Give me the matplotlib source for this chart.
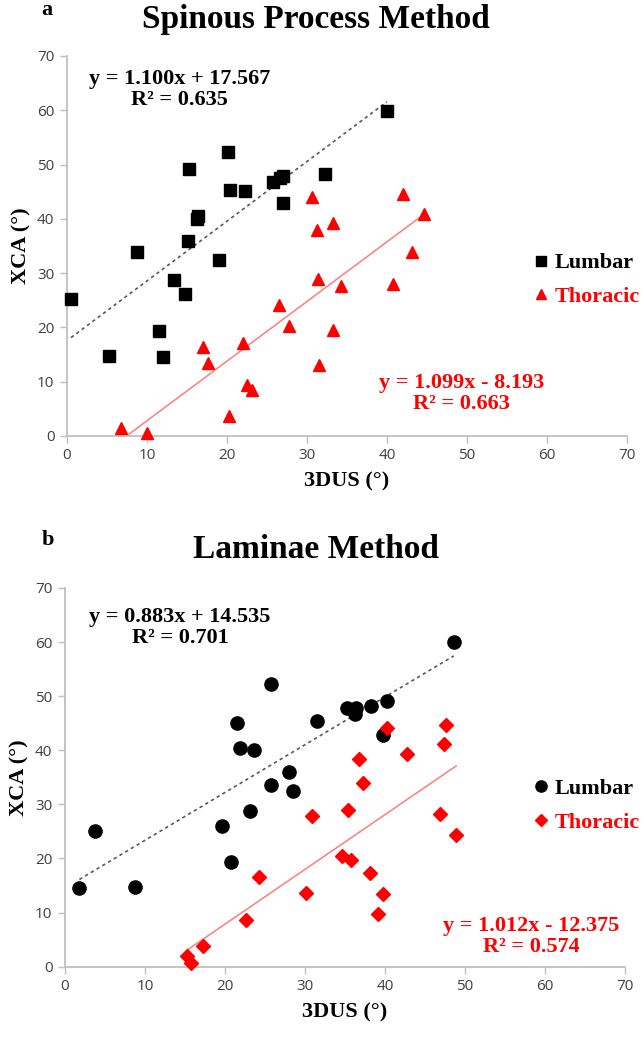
import matplotlib.pyplot as plt
from matplotlib.lines import Line2D
import numpy as np

# ---- data ----
# panel a: spinous process method
sp_lumbar_x = [0.5, 5.3, 8.7, 11.5, 12.0, 13.4, 14.8, 15.1, 15.2, 16.3, 16.4,
               19.0, 20.1, 20.4, 22.3, 25.7, 26.6, 27.0, 27.0, 32.2, 40.0]
sp_lumbar_y = [25.2, 14.8, 33.8, 19.4, 14.6, 28.7, 26.1, 35.9, 49.2, 39.9, 40.6,
               32.5, 52.3, 45.3, 45.2, 46.8, 47.5, 47.8, 42.9, 48.2, 59.9]
sp_thor_x = [6.8, 10.0, 17.0, 17.6, 20.2, 22.0, 22.5, 23.1, 26.5, 27.7, 30.6,
             31.3, 31.4, 31.5, 33.2, 33.3, 34.3, 40.8, 42.0, 43.1, 44.6]
sp_thor_y = [1.5, 0.5, 16.3, 13.4, 3.7, 17.1, 9.4, 8.5, 24.2, 20.3, 44.0,
             38.0, 28.9, 13.1, 19.6, 39.2, 27.7, 28.0, 44.6, 33.8, 40.9]

# panel b: laminae method
lm_lumbar_x = [1.8, 3.8, 8.8, 19.6, 20.8, 21.5, 21.9, 23.1, 23.6, 25.7, 25.8,
               28.0, 28.5, 31.5, 35.3, 36.3, 36.4, 38.3, 39.7, 40.2, 48.6]
lm_lumbar_y = [14.6, 25.1, 14.8, 26.0, 19.3, 45.1, 40.5, 28.7, 40.0, 33.5, 52.3,
               36.0, 32.5, 45.4, 47.9, 46.7, 47.8, 48.1, 42.8, 49.1, 60.0]
lm_thor_x = [15.2, 15.7, 17.2, 22.6, 24.2, 30.1, 30.9, 34.6, 35.4, 35.7, 36.7,
             37.3, 38.1, 39.1, 39.7, 40.3, 42.8, 46.9, 47.4, 47.6, 48.9]
lm_thor_y = [1.9, 0.7, 3.8, 8.6, 16.6, 13.7, 27.9, 20.5, 29.0, 19.8, 38.3,
             34.0, 17.3, 9.7, 13.4, 44.2, 39.4, 28.2, 41.1, 44.7, 24.3]

# trendline coefficients (slope, intercept, r2)
sp_lumbar_fit = (1.100, 17.567, 0.635)
sp_thor_fit = (1.099, -8.193, 0.663)
lm_lumbar_fit = (0.883, 14.535, 0.701)
lm_thor_fit = (1.012, -12.375, 0.574)

ticks = [0, 10, 20, 30, 40, 50, 60, 70]

RED = "#FF0000"
SERIF = "Liberation Serif"
AXCOL = "#BFBFBF"
TICKCOL = "#404040"

fig = plt.figure(figsize=(6.44, 10.37), dpi=100)


def eq_text(slope, icpt, r2):
    sign = "+" if icpt >= 0 else "-"
    return f"y = {slope:.3f}x {sign} {abs(icpt):.3f}\nR\u00b2 = {r2:.3f}"


def panel(rect, lx, ly, tx, ty, lfit, tfit, lmark, tmark, lms, tms,
          leq_pos, teq_pos, leg_y):
    ax = fig.add_axes(rect)
    ax.set_xlim(0, 70)
    ax.set_ylim(0, 70)
    ax.set_xticks(ticks)
    ax.set_yticks(ticks)
    for s in ["top", "right"]:
        ax.spines[s].set_visible(False)
    for s in ["left", "bottom"]:
        ax.spines[s].set_color(AXCOL)
        ax.spines[s].set_linewidth(1.3)
    ax.tick_params(direction="out", length=5, width=1, color=AXCOL,
                   labelcolor=TICKCOL, labelsize=11, pad=4)
    for lab in ax.get_xticklabels() + ax.get_yticklabels():
        lab.set_fontfamily("Open Sans")

    # trend lines
    xs = np.array([min(lx), max(lx)])
    ax.plot(xs, lfit[0] * xs + lfit[1], color="#595959", lw=1.2,
            ls=(0, (2, 2)))
    xs = np.array([min(tx), max(tx)])
    ax.plot(xs, tfit[0] * xs + tfit[1], color="#FF7C7C", lw=1.1)

    ax.plot(lx, ly, ls="none", marker=lmark, ms=lms, color="black",
            clip_on=False, zorder=3)
    ax.plot(tx, ty, ls="none", marker=tmark, ms=tms, color=RED,
            clip_on=False, zorder=3)

    ax.text(leq_pos[0], leq_pos[1], eq_text(*lfit), ha="center", va="center",
            multialignment="center", fontsize=16, fontweight="bold",
            family=SERIF, linespacing=1.1)
    ax.text(teq_pos[0], teq_pos[1], eq_text(*tfit), ha="center", va="center",
            multialignment="center", fontsize=16, fontweight="bold",
            family=SERIF, color=RED, linespacing=1.1)

    ax.set_xlabel("3DUS (\u00b0)", fontsize=16, fontweight="bold",
                  family=SERIF, labelpad=6)
    ax.set_ylabel("XCA (\u00b0)", fontsize=16, fontweight="bold",
                  family=SERIF, labelpad=4)

    handles = [Line2D([], [], ls="none", marker=lmark, ms=lms * 0.85,
                      color="black"),
               Line2D([], [], ls="none", marker=tmark, ms=tms * 0.85,
                      color=RED)]
    leg = ax.legend(handles, ["Lumbar", "Thoracic"], loc="center left",
                    bbox_to_anchor=(0.83, leg_y),
                    bbox_transform=fig.transFigure, frameon=False,
                    handlelength=0.6, handletextpad=0.3, labelspacing=0.6,
                    borderpad=0, borderaxespad=0,
                    prop={"family": SERIF, "weight": "bold", "size": 16})
    for txt, c in zip(leg.get_texts(), ["black", RED]):
        txt.set_color(c)
    return ax


panel([0.104, 0.5796, 0.8696, 0.3664],
      sp_lumbar_x, sp_lumbar_y, sp_thor_x, sp_thor_y,
      sp_lumbar_fit, sp_thor_fit, "s", "^", 9, 9,
      (14.1, 63.8), (49.3, 7.8), 0.730)

panel([0.1009, 0.0678, 0.8696, 0.3652],
      lm_lumbar_x, lm_lumbar_y, lm_thor_x, lm_thor_y,
      lm_lumbar_fit, lm_thor_fit, "o", "D", 9.5, 7.5,
      (14.4, 62.7), (58.3, 5.6), 0.223)

fig.text(316 / 644, 1 - 28 / 1037, "Spinous Process Method", ha="center",
         va="baseline", fontsize=24, fontweight="bold", family=SERIF)
fig.text(47 / 644, 1 - 15 / 1037, "a", ha="center", va="baseline",
         fontsize=16, fontweight="bold", family=SERIF)
fig.text(316 / 644, 1 - 558 / 1037, "Laminae Method", ha="center",
         va="baseline", fontsize=24, fontweight="bold", family=SERIF)
fig.text(48 / 644, 1 - 545 / 1037, "b", ha="center", va="baseline",
         fontsize=16, fontweight="bold", family=SERIF)

fig.savefig("out.png", dpi=100, facecolor="white")
